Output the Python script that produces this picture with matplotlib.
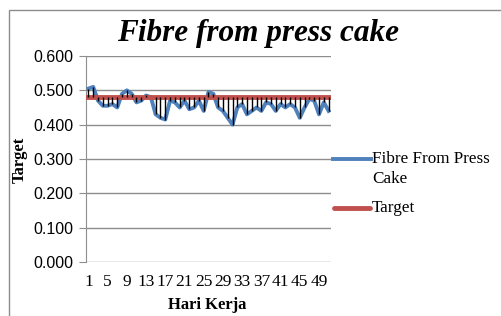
import matplotlib
matplotlib.use("Agg")
import matplotlib.pyplot as plt
from matplotlib.lines import Line2D
from matplotlib.patches import Rectangle

days = list(range(1, 52))
fibre = [0.505, 0.510, 0.470, 0.455, 0.455, 0.460, 0.450, 0.490, 0.500, 0.490,
         0.465, 0.470, 0.485, 0.480, 0.430, 0.420, 0.415, 0.470, 0.465, 0.450,
         0.470, 0.445, 0.450, 0.470, 0.440, 0.495, 0.490, 0.450, 0.440,
         0.420, 0.400, 0.450, 0.460, 0.430, 0.440, 0.450, 0.440, 0.465, 0.460,
         0.440, 0.460, 0.450, 0.460, 0.450, 0.420, 0.450, 0.475, 0.470, 0.430,
         0.465, 0.440]
target = [0.48] * 51
yticks = [0.0, 0.1, 0.2, 0.3, 0.4, 0.5, 0.6]
xtick_days = list(range(1, 52, 4))

W, H = 502, 316
fig = plt.figure(figsize=(W / 100, H / 100), dpi=100)
fig.patch.set_facecolor("white")

# outer chart frame
fig.add_artist(Rectangle((9 / W, -0.05), 1.1, (H - 10) / H + 0.05, transform=fig.transFigure,
                         fill=False, edgecolor="#8c8c8c", linewidth=1.0))

ax = fig.add_axes([86 / W, (H - 262) / H, 245 / W, 206 / H])
grid_c = "#8e8e8e"
for yv in yticks:
    ax.axhline(yv, color=grid_c, linewidth=1.0, zorder=1)

ax.plot(days, fibre, color="#4F81BD", linewidth=2.8, zorder=3)
ax.plot(days, target, color="#C0504D", linewidth=3.5, zorder=4)
ax.vlines(days, fibre, target, color="black", linewidth=1.0, zorder=5)

ax.set_xlim(0.5, 51.5)
ax.set_ylim(0, 0.6)
ax.set_yticks(yticks)
ax.set_yticklabels([f"{v:.3f}" for v in yticks], fontfamily="Liberation Sans", fontsize=11.5)
ax.set_xticks(xtick_days)
ax.set_xticklabels([str(d) for d in xtick_days], fontfamily="Liberation Serif", fontsize=12.5)
ax.tick_params(axis="x", length=0, pad=9)
ax.tick_params(axis="y", length=5, color=grid_c, pad=4)
for s in ["top", "right", "bottom"]:
    ax.spines[s].set_visible(False)
ax.spines["left"].set_color(grid_c)

fig.text(258 / W, 1 - 34 / H, "Fibre from press cake", ha="center", va="center",
         fontfamily="Liberation Serif", fontsize=22.5, fontweight="bold", fontstyle="italic")
fig.text(207 / W, 1 - 305 / H, "Hari Kerja", ha="center", va="center",
         fontfamily="Liberation Serif", fontsize=12, fontweight="bold")
fig.text(20 / W, 1 - 160 / H, "Target", ha="center", va="center", rotation=90,
         fontfamily="Liberation Serif", fontsize=12, fontweight="bold")

# legend
fig.add_artist(Line2D([333 / W, 371 / W], [1 - 159 / H] * 2, transform=fig.transFigure,
                      color="#4F81BD", linewidth=2.8))
fig.text(372 / W, 1 - 159 / H, "Fibre From Press", ha="left", va="center",
         fontfamily="Liberation Serif", fontsize=12.3)
fig.text(372 / W, 1 - 179 / H, "Cake", ha="left", va="center",
         fontfamily="Liberation Serif", fontsize=12.3)
fig.add_artist(Line2D([334 / W, 370 / W], [1 - 208 / H] * 2, transform=fig.transFigure,
                      color="#C0504D", linewidth=3.5, solid_capstyle="round"))
fig.text(372 / W, 1 - 208 / H, "Target", ha="left", va="center",
         fontfamily="Liberation Serif", fontsize=12.3)

fig.savefig("out.png", dpi=100)
